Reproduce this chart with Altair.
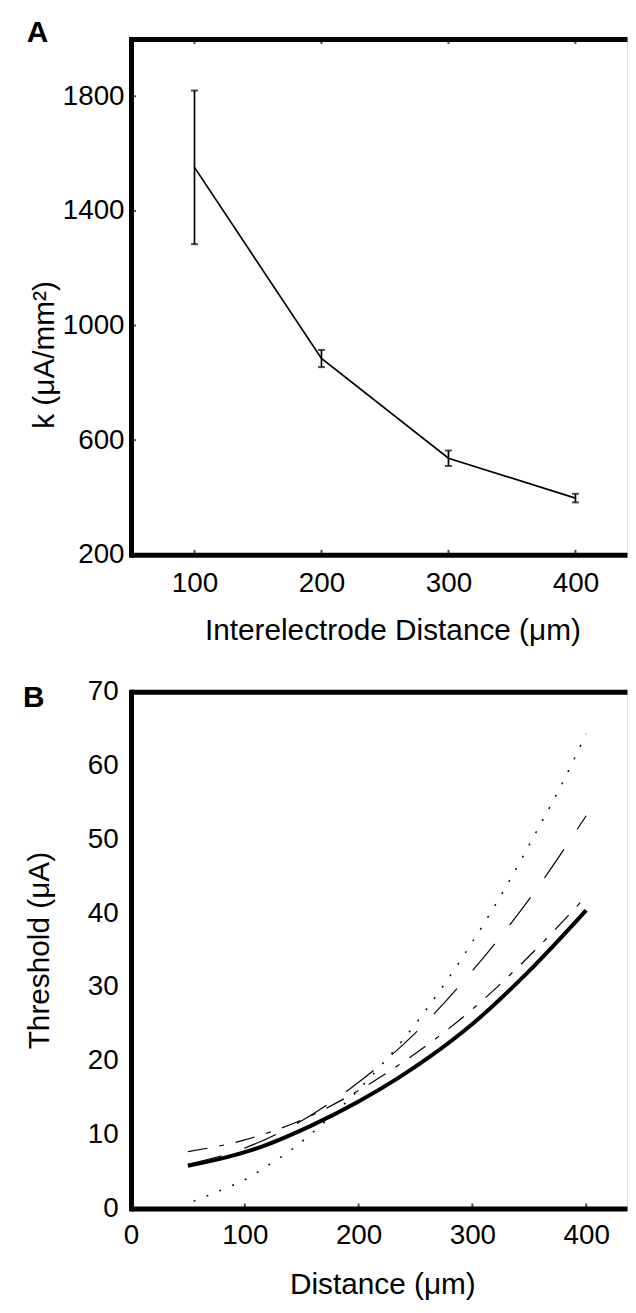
import altair as alt
import pandas as pd

FONT = "Liberation Sans"

# ---------------- Panel A data ----------------
a_distance = [100, 200, 300, 400]
a_k_mean = [1552, 885, 537, 398]
a_k_err = [268, 30, 27, 15]
a_x_ticks = [100, 200, 300, 400]
a_y_ticks = [200, 600, 1000, 1400, 1800]
a_y_min, a_y_max, a_x_min = 200, 2000, 50

# ---------------- Panel B data ----------------
b_solid_x = [50, 80, 115, 158, 200, 235, 262, 300, 350, 400]
b_solid_y = [5.8, 6.8, 8.4, 11.2, 14.5, 17.7, 20.5, 25.0, 32.2, 40.4]
b_dashdot_x = [50, 100, 150, 200, 250, 300, 350, 400]
b_dashdot_y = [7.7, 9.3, 12.0, 16.0, 21.0, 27.0, 34.2, 42.3]
b_longdash_x = [50, 100, 150, 200, 250, 300, 350, 400]
b_longdash_y = [6.0, 8.2, 11.9, 17.1, 23.8, 32.2, 41.9, 53.2]
b_dotted_x = [55, 80, 100, 121, 143, 155, 200, 250, 300, 330, 354, 377, 400]
b_dotted_y = [1.0, 2.55, 3.9, 5.9, 8.2, 9.7, 16.1, 25.0, 36.1, 43.7, 50.4, 57.0, 64.3]
b_x_ticks = [0, 100, 200, 300, 400]
b_y_ticks = [0, 10, 20, 30, 40, 50, 60, 70]
b_y_min, b_y_max = 0, 70

dfA = pd.DataFrame({
    "d": a_distance,
    "k": a_k_mean,
    "lo": [m - e for m, e in zip(a_k_mean, a_k_err)],
    "hi": [m + e for m, e in zip(a_k_mean, a_k_err)],
})
dfAx = pd.DataFrame({"t": a_x_ticks, "ybot": a_y_min, "ytop": a_y_max})
dfAy = pd.DataFrame({"t": a_y_ticks, "xleft": a_x_min})
dfBx = pd.DataFrame({"t": b_x_ticks, "ybot": b_y_min, "ytop": b_y_max})


def curve(xs, ys):
    return pd.DataFrame({"x": xs, "y": ys})


common_label = dict(labelFont=FONT, labelFontSize=28, labelColor="black",
                    labelFlush=False, labelOverlap=False, grid=False, format="d",
                    ticks=False, tickSize=0, domainColor="black", domainWidth=5)
common_title = dict(titleFont=FONT, titleFontSize=30, titleFontWeight="normal",
                    titleColor="black")

PLOT_W = 500

# ---------------- Panel A ----------------
xA = alt.Scale(domain=[50, 440.6], nice=False, zero=False)
yA = alt.Scale(domain=[200, 2000], nice=False, zero=False)

axA_bottom = alt.Axis(orient="bottom", values=a_x_ticks, labelPadding=14.5, domainCap="butt",
                      title="Interelectrode Distance (μm)", titleX=263.5, titleY=85,
                      titleAlign="center", titleBaseline="alphabetic", titleAngle=0,
                      **common_label, **common_title)
axA_left = alt.Axis(orient="left", values=a_y_ticks, labelPadding=7, domainCap="square",
                    title="k (μA/mm²)", titleX=-78, titleY=318, titleAngle=270,
                    titleAlign="center", titleBaseline="alphabetic",
                    **common_label, **common_title)
axA_top = alt.Axis(orient="top", values=a_x_ticks, labels=False, title=None,
                   domainCap="butt", grid=False, ticks=False, tickSize=0,
                   domainColor="black", domainWidth=5)

lineA = alt.Chart(dfA).mark_line(color="black", strokeWidth=1.7).encode(
    x=alt.X("d:Q", scale=xA, axis=axA_bottom),
    y=alt.Y("k:Q", scale=yA, axis=axA_left),
)
errA = alt.Chart(dfA).mark_rule(color="black", strokeWidth=1.7).encode(
    x=alt.X("d:Q", scale=xA, axis=None),
    y=alt.Y("lo:Q", scale=yA, axis=None),
    y2="hi:Q",
)
capLoA = alt.Chart(dfA).mark_tick(color="black", orient="horizontal", size=7, thickness=2).encode(
    x=alt.X("d:Q", scale=xA, axis=None),
    y=alt.Y("lo:Q", scale=yA, axis=None),
)
capHiA = alt.Chart(dfA).mark_tick(color="black", orient="horizontal", size=7, thickness=2).encode(
    x=alt.X("d:Q", scale=xA, axis=None),
    y=alt.Y("hi:Q", scale=yA, axis=None),
)
nubBottomA = alt.Chart(dfAx).mark_tick(color="black", orient="vertical", size=5, thickness=2, yOffset=-2.5).encode(
    x=alt.X("t:Q", scale=xA, axis=None),
    y=alt.Y("ybot:Q", scale=yA, axis=None),
)
nubTopA = alt.Chart(dfAx).mark_tick(color="black", orient="vertical", size=5, thickness=2, yOffset=2.5).encode(
    x=alt.X("t:Q", scale=xA, axis=axA_top),
    y=alt.Y("ytop:Q", scale=yA, axis=None),
)
nubLeftA = alt.Chart(dfAy).mark_tick(color="black", orient="horizontal", size=5, thickness=2, xOffset=2.5).encode(
    x=alt.X("xleft:Q", scale=xA, axis=None),
    y=alt.Y("t:Q", scale=yA, axis=None),
)
labA = alt.Chart(pd.DataFrame({"lab": ["A"]})).mark_text(
    font=FONT, fontSize=30, fontWeight="bold", align="left", baseline="alphabetic", color="black"
).encode(text="lab:N", x=alt.value(-105), y=alt.value(3))

panelA = alt.layer(lineA, errA, capLoA, capHiA, nubBottomA, nubTopA, nubLeftA, labA).resolve_axis(
    x="independent", y="independent"
).properties(width=PLOT_W, height=520)

# ---------------- Panel B ----------------
xB = alt.Scale(domain=[0, 435.9], nice=False, zero=False)
yB = alt.Scale(domain=[0, 70], nice=False, zero=False)

axB_bottom = alt.Axis(orient="bottom", values=b_x_ticks, labelPadding=13.7, domainCap="butt",
                      title="Distance (μm)", titleX=253.4, titleY=86,
                      titleAlign="center", titleBaseline="alphabetic", titleAngle=0,
                      **common_label, **common_title)
axB_left = alt.Axis(orient="left", values=b_y_ticks, labelPadding=13, domainCap="square",
                    title="Threshold (μA)", titleX=-83, titleY=260.5, titleAngle=270,
                    titleAlign="center", titleBaseline="alphabetic",
                    **common_label, **common_title)
axB_top = alt.Axis(orient="top", values=b_x_ticks, labels=False, title=None,
                   domainCap="butt", grid=False, ticks=False, tickSize=0,
                   domainColor="black", domainWidth=5)

solidB = alt.Chart(curve(b_solid_x, b_solid_y)).mark_line(
    color="black", strokeWidth=4, interpolate="monotone"
).encode(x=alt.X("x:Q", scale=xB, axis=axB_bottom), y=alt.Y("y:Q", scale=yB, axis=axB_left))
dashdotB = alt.Chart(curve(b_dashdot_x, b_dashdot_y)).mark_line(
    color="black", strokeWidth=1.2, strokeDash=[20, 12, 5, 12], interpolate="monotone"
).encode(x=alt.X("x:Q", scale=xB, axis=None), y=alt.Y("y:Q", scale=yB, axis=None))
longdashB = alt.Chart(curve(b_longdash_x, b_longdash_y)).mark_line(
    color="black", strokeWidth=1.2, strokeDash=[35, 24], interpolate="monotone"
).encode(x=alt.X("x:Q", scale=xB, axis=None), y=alt.Y("y:Q", scale=yB, axis=None))
dottedB = alt.Chart(curve(b_dotted_x, b_dotted_y)).mark_line(
    color="black", strokeWidth=1.5, strokeDash=[2, 12], interpolate="monotone"
).encode(x=alt.X("x:Q", scale=xB, axis=None), y=alt.Y("y:Q", scale=yB, axis=None))
nubBottomB = alt.Chart(dfBx).mark_tick(color="black", orient="vertical", size=5, thickness=2, yOffset=-2.5).encode(
    x=alt.X("t:Q", scale=xB, axis=None),
    y=alt.Y("ybot:Q", scale=yB, axis=None),
)
topB = alt.Chart(dfBx).mark_tick(color="black", opacity=0, orient="vertical", size=1).encode(
    x=alt.X("t:Q", scale=xB, axis=axB_top),
    y=alt.Y("ytop:Q", scale=yB, axis=None),
)
labB = alt.Chart(pd.DataFrame({"lab": ["B"]})).mark_text(
    font=FONT, fontSize=30, fontWeight="bold", align="left", baseline="alphabetic", color="black"
).encode(text="lab:N", x=alt.value(-109), y=alt.value(15))

panelB = alt.layer(solidB, dashdotB, longdashB, dottedB, nubBottomB, topB, labB).resolve_axis(
    x="independent", y="independent"
).properties(width=PLOT_W, height=521)

chart = alt.vconcat(panelA, panelB, spacing=138, bounds="flush").properties(
    padding={"left": 14, "top": 4, "right": 0, "bottom": 0}
).configure_view(stroke=None).configure(background="white")

chart.save("out.html", embed_options={"renderer": "svg", "actions": False})
